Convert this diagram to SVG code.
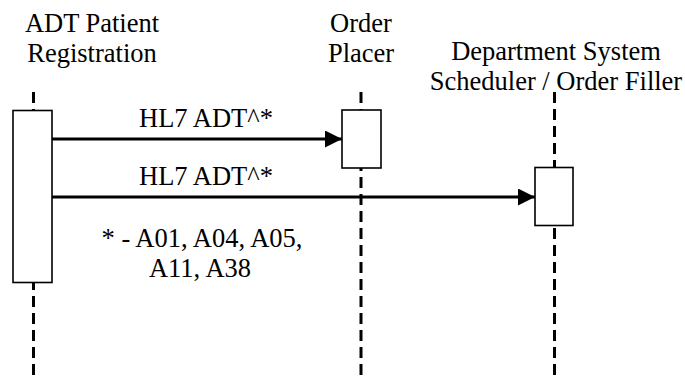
<svg xmlns="http://www.w3.org/2000/svg" width="685" height="378" viewBox="0 0 685 378">
<style>
.t{font-family:"Liberation Serif","Times New Roman",serif;font-size:26.5px;fill:#000;text-anchor:middle}
.life{stroke:#000;stroke-width:3;stroke-dasharray:11 6;fill:none}
.act{fill:#fff;stroke:#000;stroke-width:1.6}
.msg{stroke:#000;stroke-width:3.2;fill:none}
</style>
<defs>
<marker id="ah" markerWidth="17" markerHeight="17" refX="17" refY="8.5" orient="auto" markerUnits="userSpaceOnUse">
<path d="M0,0 L17,8.5 L0,17 Z" fill="#000"/>
</marker>
</defs>
<g id="adt">
<text class="t" x="92" y="32">ADT Patient</text>
<text class="t" x="92" y="62">Registration</text>
<line class="life" x1="33.5" y1="92" x2="33.5" y2="378"/>
<rect class="act" x="13" y="110.5" width="39" height="172"/>
</g>
<g id="placer">
<text class="t" x="361" y="32">Order</text>
<text class="t" x="361" y="62">Placer</text>
<line class="life" x1="361" y1="92" x2="361" y2="378"/>
<rect class="act" x="342" y="110" width="39" height="58"/>
</g>
<g id="dss">
<text class="t" x="556" y="60">Department System</text>
<text class="t" x="556" y="90">Scheduler / Order Filler</text>
<line class="life" x1="554.5" y1="92" x2="554.5" y2="378"/>
<rect class="act" x="535" y="167.5" width="38" height="58"/>
</g>
<g id="connectors">
<line class="msg" x1="52" y1="139" x2="342" y2="139" marker-end="url(#ah)"/>
<text class="t" x="206" y="127">HL7 ADT^*</text>
<line class="msg" x1="52" y1="197" x2="535" y2="197" marker-end="url(#ah)"/>
<text class="t" x="206" y="185">HL7 ADT^*</text>
</g>
<g id="note">
<text class="t" x="202" y="247">* - A01, A04, A05,</text>
<text class="t" x="200" y="277">A11, A38</text>
</g>
</svg>
